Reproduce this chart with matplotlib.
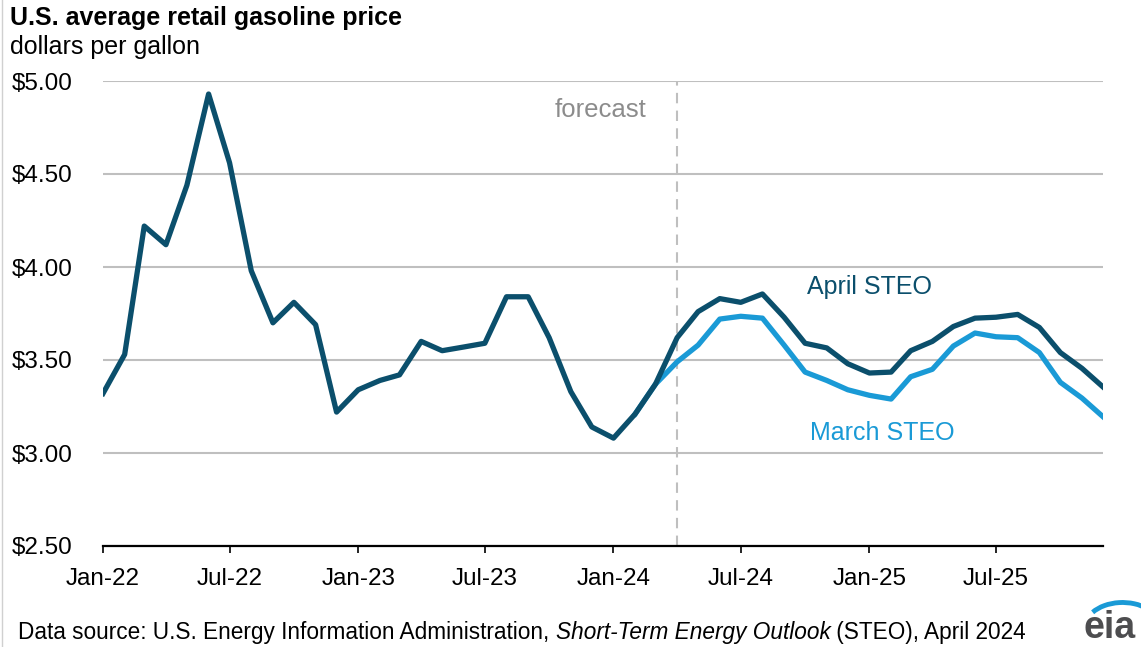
import numpy as np
import pandas as pd
import matplotlib
matplotlib.use("Agg")
import matplotlib.pyplot as plt
import matplotlib.dates as mdates
from matplotlib.patches import Arc

plt.rcParams["font.family"] = ["Liberation Sans", "DejaVu Sans"]

# Monthly retail gasoline price, dollars per gallon
months = pd.date_range("2022-01-01", "2025-12-01", freq="MS")
april_steo = [3.32, 3.53, 4.22, 4.12, 4.44, 4.93, 4.56, 3.98, 3.70, 3.81, 3.69, 3.22,
              3.34, 3.39, 3.42, 3.60, 3.55, 3.57, 3.59, 3.84, 3.84, 3.62, 3.33, 3.14,
              3.08, 3.21, 3.37, 3.62, 3.76, 3.83, 3.81, 3.855, 3.73, 3.59, 3.565, 3.48,
              3.43, 3.435, 3.55, 3.60, 3.68, 3.725, 3.73, 3.745, 3.675, 3.54, 3.455, 3.355]
march_months = pd.date_range("2024-02-01", "2025-12-01", freq="MS")
march_steo = [3.21, 3.37, 3.49, 3.58, 3.72, 3.735, 3.725, 3.58, 3.435, 3.39, 3.34,
              3.31, 3.29, 3.41, 3.45, 3.575, 3.645, 3.625, 3.62, 3.54, 3.38, 3.295, 3.195]
forecast_start = pd.Timestamp("2024-04-01")

dark_blue = "#0b4f6c"
light_blue = "#1a9ad6"
grid_gray = "#bfbfbf"
fs = 17.5

fig = plt.figure(figsize=(11.41, 6.47), dpi=100)
ax = fig.add_axes([103 / 1141, 101 / 647, 1000 / 1141, 465 / 647])

ax.plot(march_months, march_steo, color=light_blue, lw=3.8, solid_joinstyle="round", zorder=3)
ax.plot(months, april_steo, color=dark_blue, lw=3.8, solid_joinstyle="round", zorder=4)

ax.set_xlim(months[0], months[-1])
ax.set_ylim(2.5, 5.0)
ax.set_yticks(np.arange(2.5, 5.01, 0.5))
ax.yaxis.set_major_formatter(lambda v, p: f"${v:.2f}")
ax.xaxis.set_major_locator(mdates.MonthLocator(bymonth=[1, 7]))
ax.xaxis.set_major_formatter(mdates.DateFormatter("%b-%y"))

ax.grid(axis="y", color=grid_gray, lw=1.5)
ax.set_axisbelow(True)
for side in ["top", "right", "left"]:
    ax.spines[side].set_visible(False)
ax.spines["bottom"].set_linewidth(1.6)
ax.spines["bottom"].set_zorder(5)
ax.tick_params(axis="x", length=5, width=1.2, direction="out", labelsize=fs, pad=11)
ax.tick_params(axis="y", length=0, labelsize=fs, pad=22)

# forecast divider
ax.axvline(forecast_start, color=grid_gray, lw=1.5, ls=(0, (5, 3.5)), zorder=2)
ax.text(forecast_start - pd.Timedelta(days=44), 4.845, "forecast", color="#8c8c8c",
        fontsize=18.5, ha="right", va="center")

ax.text(pd.Timestamp("2024-10-04"), 3.89, "April STEO", color=dark_blue, fontsize=18, va="center")
ax.text(pd.Timestamp("2024-10-08"), 3.107, "March STEO", color=light_blue, fontsize=18, va="center")

# titles
fig.text(10 / 1141, 1 - 18 / 647, "U.S. average retail gasoline price", fontsize=18,
         fontweight="bold", va="center")
fig.text(10 / 1141, 1 - 47 / 647, "dollars per gallon", fontsize=18, va="center")

# source note with italic report name
src1 = fig.text(18 / 1141, 1 - 632 / 647, "Data source: U.S. Energy Information Administration, ",
                fontsize=16.3, va="center")
src2 = ax.annotate("Short-Term Energy Outlook", xy=(1, 0.5), xycoords=src1, va="center",
                   fontsize=16.3, style="italic", annotation_clip=False)
ax.annotate(" (STEO), April 2024", xy=(1, 0.5), xycoords=src2, va="center", fontsize=16.3,
            annotation_clip=False)

# eia logo
fig.text(1110 / 1141, 1 - 628 / 647, "eia", fontsize=27, fontweight="bold", color="#4d4d4f",
         ha="center", va="center")
logo = fig.add_axes([1078 / 1141, 1 - 625 / 647, 66 / 1141, 30 / 647])
logo.set_xlim(-1, 1)
logo.set_ylim(0, 1)
logo.axis("off")
logo.add_patch(Arc((0.35, -0.1), 2.3, 1.7, theta1=40, theta2=150, color=light_blue, lw=3.5))

# thin frame at the left edge
fig.add_artist(plt.Line2D([2 / 1141, 2 / 1141], [0, 1], color="#d0d0d0", lw=1))

fig.savefig("out.png", dpi=100)
